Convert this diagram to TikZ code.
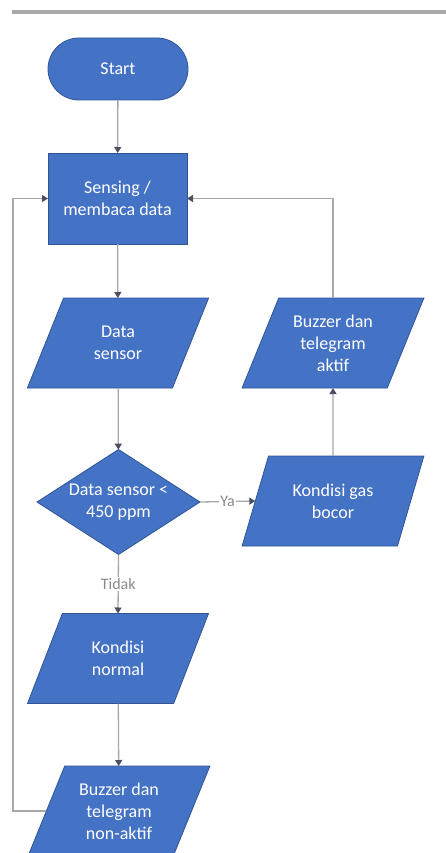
\documentclass[tikz,border=0pt]{standalone}
\usepackage{fontspec}
\setmainfont{Carlito}
\usetikzlibrary{shapes.geometric,shapes.misc,arrows.meta}
\definecolor{boxblue}{HTML}{4472C4}
\definecolor{boxedge}{HTML}{2F5597}
\definecolor{linegray}{HTML}{A8A8A8}
\definecolor{tipgray}{HTML}{4A5060}
\definecolor{labelgray}{HTML}{8A8A8A}
\tikzset{
  base/.style={fill=boxblue, draw=boxedge, line width=0.8pt, text=white, align=center,
    font=\fontsize{18}{22}\selectfont, inner sep=0pt, outer sep=0pt},
  startbox/.style={base, rounded rectangle, minimum width=140pt, minimum height=62pt},
  procbox/.style={base, rectangle, minimum width=139pt, minimum height=91pt},
  iobox/.style={base, trapezium, trapezium left angle=64.5, trapezium right angle=115.5,
    trapezium stretches=true, minimum width=182pt, minimum height=90pt},
  decbox/.style={base, diamond, minimum width=163pt, minimum height=105pt},
  conn/.style={draw=linegray, line width=1.3pt, -{Triangle[width=7pt,length=6pt,color=tipgray]}},
  edgelabel/.style={fill=white, text=labelgray, inner sep=1pt, font=\fontsize{16}{18}\selectfont}
}
\begin{document}
\begin{tikzpicture}[x=1pt,y=-1pt]
\useasboundingbox (0,0) rectangle (446,853);
\clip (0,0) rectangle (446,853);
% top gray bar
\fill[linegray] (12,10) rectangle (446,14);

\node[startbox] (start) at (118,69) {Start};
\node[procbox] (sens) at (117.5,198.5) {Sensing /\\membaca data};
\node[iobox] (ds) at (118,343) {Data\\sensor};
\node[decbox, label={[text=white, align=center, font=\fontsize{18}{22}\selectfont]center:Data sensor <\\450 ppm}] (dec) at (118.5,502) {};
\node[iobox] (gb) at (333,501) {Kondisi gas\\bocor};
\node[iobox] (ba) at (333,343) {Buzzer dan\\telegram\\aktif};
\node[iobox] (kn) at (118,658.5) {Kondisi\\normal};
\node[iobox] (bn) at (119,811) {Buzzer dan\\telegram\\non-aktif};
\coordinate (lc) at (13,198.5);

\draw[conn] (start) -- (sens);
\draw[conn] (sens) -- (ds);
\draw[conn] (ds) -- (dec);
\draw[conn] (dec.east) -- node[edgelabel] {Ya} (gb.west);
\draw[conn] (gb) -- (ba);
\draw[conn] (ba.north) |- (sens.east);
\draw[conn] (dec.south) -- node[edgelabel, pos=0.5] {Tidak} (kn.north);
\draw[conn] (kn) -- (bn);
\draw[conn] (bn.west) -| (lc) -- (sens.west);
\end{tikzpicture}
\end{document}
